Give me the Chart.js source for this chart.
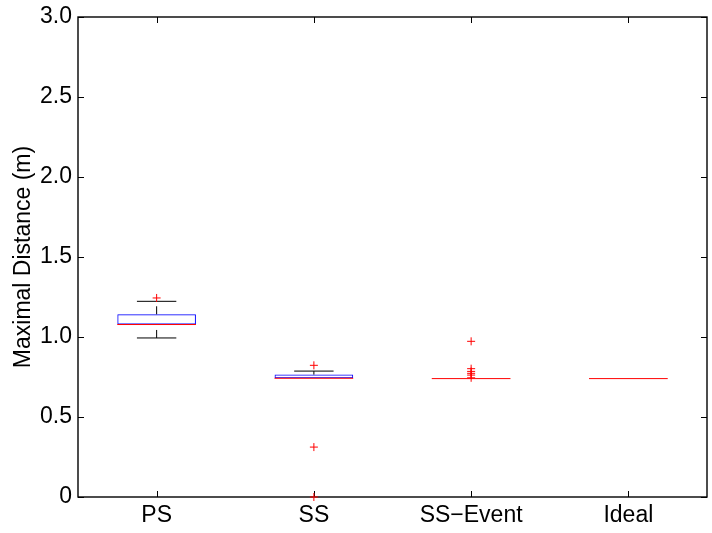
<!DOCTYPE html>
<html>
<head>
<meta charset="utf-8">
<script src="https://cdn.jsdelivr.net/npm/chart.js@4/dist/chart.umd.min.js"></script>
<style>
  html, body { margin: 0; padding: 0; background: #fff; }
  #c { display: block; }
</style>
</head>
<body>
<canvas id="c" width="712" height="533"></canvas>
<script>
// ---- data ----
const categories = ['PS', 'SS', 'SS\u2212Event', 'Ideal'];
const q1 = [1.078, 0.742, 0.740, 0.740];
const q3 = [1.142, 0.765, 0.740, 0.740];
const medians = [1.078, 0.742, 0.740, 0.740];
const whiskerLow = [0.994, 0.742, 0.740, 0.740];
const whiskerHigh = [1.223, 0.787, 0.740, 0.740];
const outliers = [
  [1.244],
  [0.823, 0.312, 0.0],
  [0.973, 0.802, 0.785, 0.773, 0.762, 0.745],
  []
];
const yTicks = [0, 0.5, 1.0, 1.5, 2.0, 2.5, 3.0];
const yTitle = 'Maximal Distance (m)';

const FONT = "'Liberation Sans', Arial, Helvetica, sans-serif";
const FS = 23;

// ---- datasets ----
const datasets = [];
datasets.push({
  type: 'bar',
  label: 'box',
  data: q1.map((v, i) => [v, q3[i]]),
  backgroundColor: 'rgba(0,0,0,0)',
  borderColor: '#0000ff',
  borderWidth: 1,
  borderSkipped: false,
  barPercentage: 0.5,
  categoryPercentage: 1.0,
  order: 5
});
categories.forEach((c, i) => {
  if (whiskerLow[i] < q1[i]) {
    datasets.push({
      type: 'line', label: 'stemLow' + i,
      data: [{x: c, y: whiskerLow[i]}, {x: c, y: q1[i]}],
      borderColor: '#000', borderWidth: 1, borderDash: [8, 6],
      pointRadius: 0, fill: false, order: 4
    });
  }
  if (whiskerHigh[i] > q3[i]) {
    datasets.push({
      type: 'line', label: 'stemHigh' + i,
      data: [{x: c, y: q3[i]}, {x: c, y: whiskerHigh[i]}],
      borderColor: '#000', borderWidth: 1, borderDash: [8, 6],
      pointRadius: 0, fill: false, order: 4
    });
  }
});
// whisker caps (hidden under the box edge when the whisker equals it)
[[whiskerLow, q1, -1], [whiskerHigh, q3, 1]].forEach(([arr, edge, s], k) => {
  datasets.push({
    type: 'line', label: 'cap' + k,
    data: arr.map((v, i) => ((v - edge[i]) * s > 0 ? v : null)),
    showLine: false,
    pointStyle: 'line',
    pointRadius: 19.7,
    pointBorderColor: '#000',
    pointBorderWidth: 1,
    pointBackgroundColor: '#000',
    order: 3
  });
});
datasets.push({
  type: 'line', label: 'outliers',
  data: outliers.flatMap((arr, i) => arr.map(v => ({x: categories[i], y: v}))),
  showLine: false,
  pointStyle: 'cross',
  pointRadius: 4,
  pointBorderColor: '#ff0000',
  pointBorderWidth: 1,
  clip: false,
  order: 1
});
datasets.push({
  type: 'line', label: 'median',
  data: medians,
  showLine: false,
  pointStyle: 'line',
  pointRadius: 39.35,
  pointBorderColor: '#ff0000',
  pointBorderWidth: 1,
  order: 0
});

// ---- MATLAB-style frame with inward ticks (drawn beneath the marks) ----
const frame = {
  id: 'frame',
  beforeDatasetsDraw(chart) {
    const {ctx, chartArea: a, scales: {x, y}} = chart;
    const L = 6;
    ctx.save();
    ctx.strokeStyle = '#000';
    ctx.lineWidth = 1.4;
    ctx.strokeRect(a.left, a.top, a.right - a.left, a.bottom - a.top);
    ctx.lineWidth = 1;
    ctx.beginPath();
    x.ticks.forEach((t, i) => {
      const px = Math.round(x.getPixelForTick(i)) + 0.5;
      ctx.moveTo(px, a.bottom); ctx.lineTo(px, a.bottom - L);
      ctx.moveTo(px, a.top); ctx.lineTo(px, a.top + L);
    });
    y.ticks.forEach((t, i) => {
      const py = Math.round(y.getPixelForTick(i)) + 0.5;
      ctx.moveTo(a.left, py); ctx.lineTo(a.left + L, py);
      ctx.moveTo(a.right, py); ctx.lineTo(a.right - L, py);
    });
    ctx.stroke();
    ctx.restore();
  }
};

new Chart(document.getElementById('c'), {
  type: 'bar',
  data: { labels: categories, datasets },
  plugins: [frame],
  options: {
    responsive: false,
    animation: false,
    devicePixelRatio: 1,
    layout: { autoPadding: false, padding: { top: 17, right: 5, left: 0, bottom: 0 } },
    plugins: { legend: { display: false }, tooltip: { enabled: false } },
    scales: {
      x: {
        type: 'category',
        offset: true,
        grid: { display: false, drawTicks: false },
        border: { display: false },
        ticks: { color: '#000', padding: 5, font: { family: FONT, size: FS } },
        afterFit(s) { s.height = 36; s.paddingLeft = 0; s.paddingRight = 0; }
      },
      y: {
        type: 'linear',
        min: 0, max: 3,
        afterBuildTicks(s) { s.ticks = yTicks.map(v => ({ value: v })); },
        grid: { display: false, drawTicks: false },
        border: { display: false },
        ticks: {
          color: '#000', padding: 6,
          font: { family: FONT, size: FS },
          callback: v => (v === 0 ? '0' : v.toFixed(1))
        },
        title: {
          display: true, text: yTitle, color: '#000',
          font: { family: FONT, size: FS },
          padding: { top: 10, bottom: 0 }
        },
        afterFit(s) { s.width = 78; s.paddingTop = 0; s.paddingBottom = 0; }
      }
    }
  }
});
</script>
</body>
</html>
